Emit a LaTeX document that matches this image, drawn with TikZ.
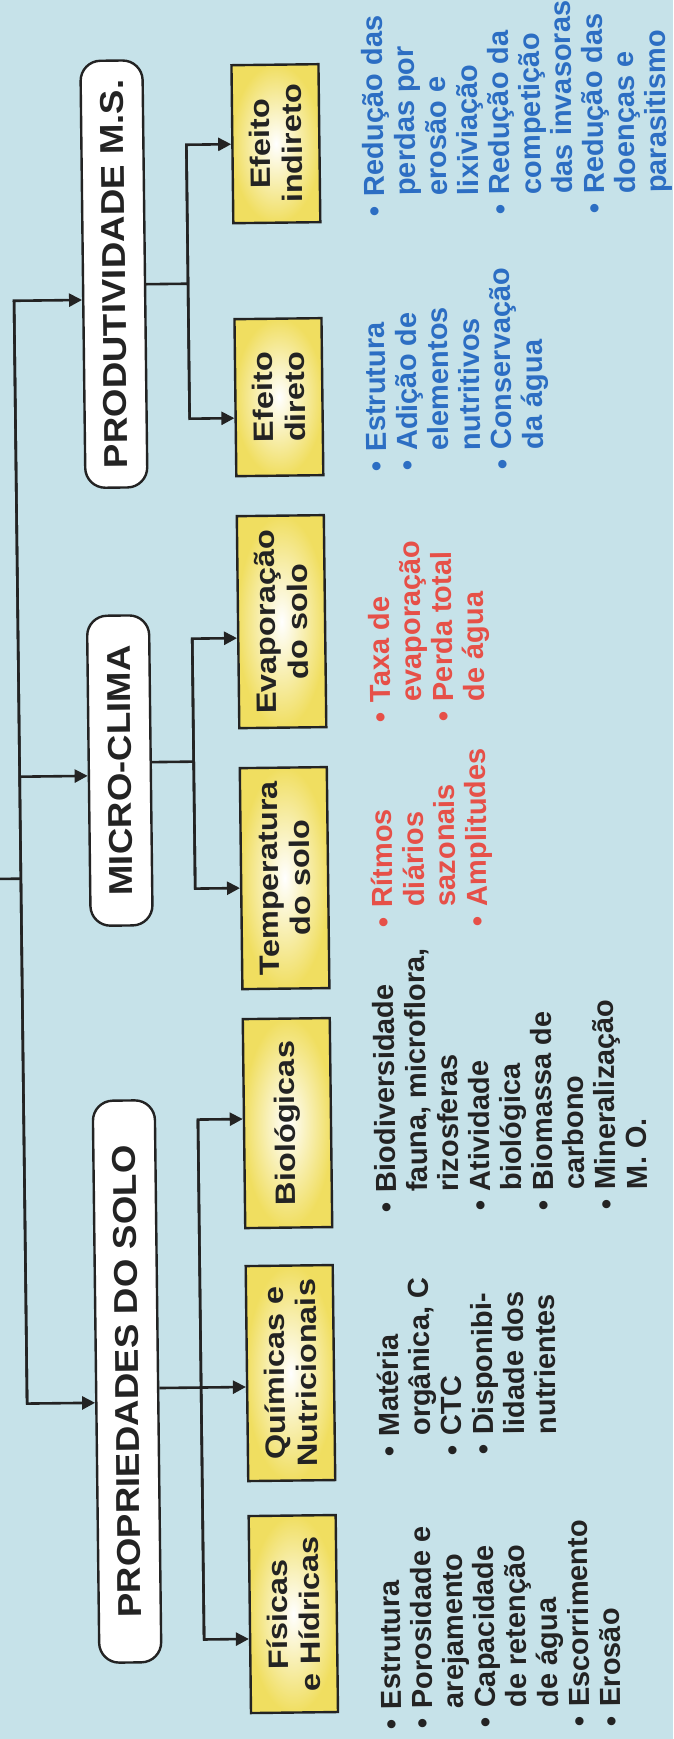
\documentclass[tikz,border=0pt]{standalone}
\usepackage{fontspec}
\setmainfont{Liberation Sans}
\newfontfamily\boxfont[FakeStretch=1.16]{Liberation Sans}
\newfontfamily\topfont[FakeStretch=1.11]{Liberation Sans}
\usetikzlibrary{arrows.meta}
\definecolor{bgblue}{RGB}{198,226,233}
\definecolor{boxyellow}{RGB}{240,222,96}
\definecolor{txtblue}{RGB}{44,110,195}
\definecolor{txtred}{RGB}{230,80,72}
\definecolor{ink}{RGB}{35,35,35}
\newcommand{\bitem}{\makebox[20pt][l]{•}}
\newcommand{\bcont}{\hspace*{20pt}}
\begin{document}
\begin{tikzpicture}[x=1pt,y=-1pt,
  lin/.style={draw=ink, line width=2.6pt},
  arr/.style={lin, -{Triangle[length=13pt,width=13pt]}},
  topbox/.style={draw=ink, line width=2.4pt, fill=white, rounded corners=20pt,
    rotate=90, minimum height=62pt, inner sep=0pt, text=ink,
    font=\topfont\bfseries\fontsize{33}{36}\selectfont},
  subbox/.style={draw=ink, line width=2.4pt, inner color=white, outer color=boxyellow,
    rotate=90, minimum height=87pt, inner sep=0pt, align=center, text=ink,
    font=\boxfont\bfseries\fontsize{28}{32}\selectfont},
  txt/.style={rotate=90, anchor=north west, inner sep=0pt, align=left,
    font=\bfseries\fontsize{29}{31.4}\selectfont}]
\fill[bgblue] (0,0) rectangle (673,1739);
\useasboundingbox (0,0) rectangle (673,1739);
\begin{scope}[rotate around={0.68:(336,870)}, transform shape]
% top level boxes
\node[topbox, minimum width=427pt] (prod) at (121,271.5) {PRODUTIVIDADE M.S.};
\node[topbox, minimum width=310pt] (micro) at (121,768) {MICRO-CLIMA};
\node[topbox, minimum width=562pt] (prop) at (121,1379) {PROPRIEDADES DO SOLO};
% second level boxes
\node[subbox, minimum width=158pt] (ind) at (284.5,143) {Efeito\\indireto};
\node[subbox, minimum width=157pt] (dir) at (284.5,396.5) {Efeito\\direto};
\node[subbox, minimum width=212pt] (evap) at (284.5,621) {Evaporação\\do solo};
\node[subbox, minimum width=221pt] (temp) at (284.5,877.5) {Temperatura\\do solo};
\node[subbox, minimum width=209pt] (bio) at (284.5,1122.5) {Biológicas};
\node[subbox, minimum width=215pt] (quim) at (284.5,1372.5) {Químicas e\\Nutricionais};
\node[subbox, minimum width=197pt] (fis) at (284.5,1613.5) {Físicas\\e Hídricas};
% main trunk
\coordinate (mt) at (20.8,297);
\coordinate (mm) at (20.8,773);
\coordinate (ms) at (20.8,875);
\coordinate (mb) at (20.8,1400);
\coordinate (lft) at (-6,875);
\draw[arr] (mb) -- (mt) -- (mt -| prod.north);
\draw[arr] (mt) -- (mb) -- (mb -| prop.north);
\draw[arr] (mm) -- (mm -| micro.north);
\draw[lin] (lft) -- (ms);
% PRODUTIVIDADE branches
\coordinate (po) at (195,282);
\coordinate (pa) at (195,143);
\coordinate (pb) at (195,417);
\draw[lin] (po -| prod.south) -- (po);
\draw[arr] (pb) -- (pa) -- (pa -| ind.north);
\draw[arr] (pa) -- (pb) -- (pb -| dir.north);
% MICRO-CLIMA branches
\coordinate (co) at (195,760);
\coordinate (ca) at (195,637);
\coordinate (cb) at (195,887);
\draw[lin] (co -| micro.south) -- (co);
\draw[arr] (cb) -- (ca) -- (ca -| evap.north);
\draw[arr] (ca) -- (cb) -- (cb -| temp.north);
% PROPRIEDADES branches
\coordinate (so) at (195,1386);
\coordinate (sa) at (195,1118);
\coordinate (sb) at (195,1638);
\draw[arr] (so -| prop.south) -- (so -| quim.north);
\draw[arr] (sb) -- (sa) -- (sa -| bio.north);
\draw[arr] (sa) -- (sb) -- (sb -| fis.north);
% bullet texts
\node[txt, text=txtblue] (tind) at (371,217) {\bitem Redução das\\ \bcont perdas por\\ \bcont erosão e\\ \bcont lixiviação\\ \bitem Redução da\\ \bcont competição\\ \bcont das invasoras\\ \bitem Redução das\\ \bcont doenças e\\ \bcont parasitismo};
\node[txt, text=txtblue] (tdir) at (371,472) {\bitem Estrutura\\ \bitem Adição de\\ \bcont elementos\\ \bcont nutritivos\\ \bitem Conservação\\ \bcont da água};
\node[txt, text=txtred] (tevap) at (371,723) {\bitem Taxa de\\ \bcont evaporação\\ \bitem Perda total\\ \bcont de água};
\node[txt, text=txtred] (ttemp) at (371,928) {\bitem Rítmos\\ \bcont diários\\ \bcont sazonais\\ \bitem Amplitudes};
\node[txt, text=ink] (tbio) at (371,1213) {\bitem Biodiversidade\\ \bcont fauna, microflora,\\ \bcont rizosferas\\ \bitem Atividade\\ \bcont biológica\\ \bitem Biomassa de\\ \bcont carbono\\ \bitem Mineralização\\ \bcont M. O.};
\node[txt, text=ink] (tquim) at (371,1457) {\bitem Matéria\\ \bcont orgânica, C\\ \bitem CTC\\ \bitem Disponibi-\\ \bcont lidade dos\\ \bcont nutrientes};
\node[txt, text=ink] (tfis) at (371,1730) {\bitem Estrutura\\ \bitem Porosidade e\\ \bcont arejamento\\ \bitem Capacidade\\ \bcont de retenção\\ \bcont de água\\ \bitem Escorrimento\\ \bitem Erosão};
\end{scope}
\end{tikzpicture}
\end{document}
